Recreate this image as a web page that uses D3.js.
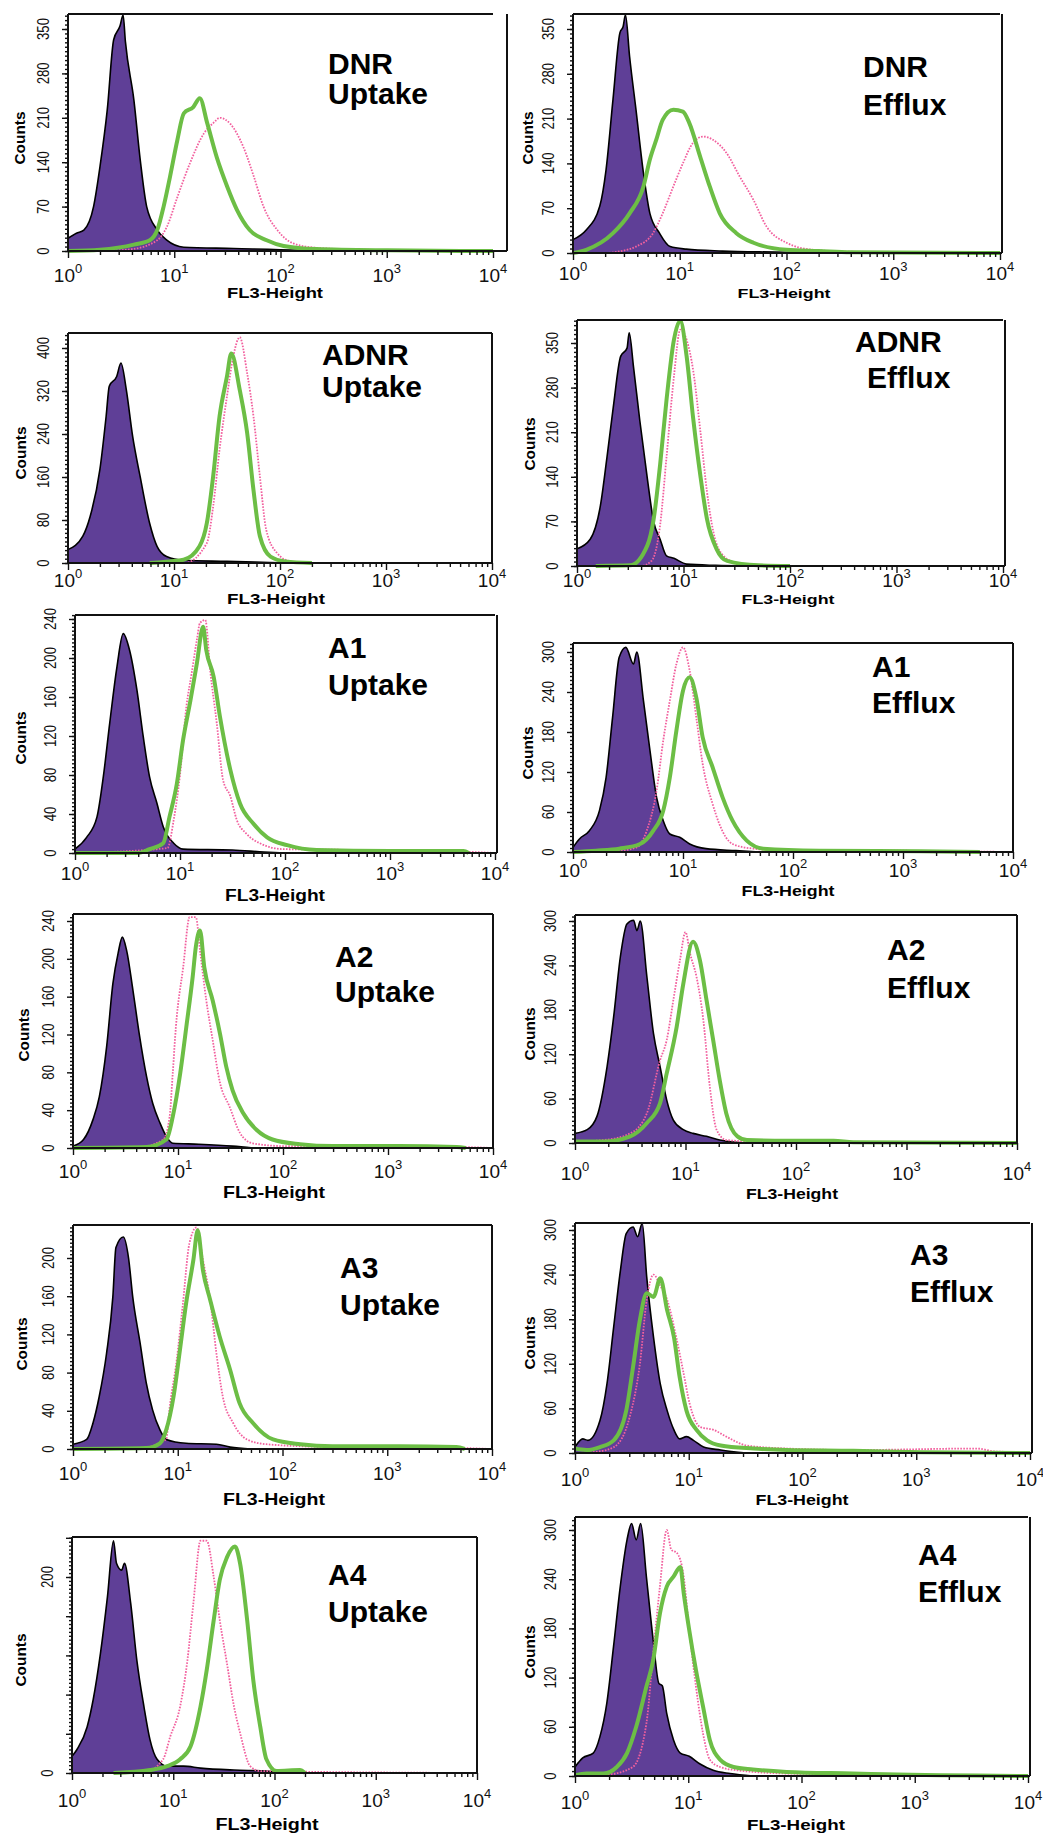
<!DOCTYPE html>
<html>
<head>
<meta charset="utf-8">
<script src="https://cdnjs.cloudflare.com/ajax/libs/d3/7.8.5/d3.min.js"></script>
<style>
body { margin: 0; background: #fff; }
svg { display: block; font-family: "Liberation Sans", Arial, sans-serif; }
</style>
</head>
<body>
<script>
// panel titles, reading order (left column = uptake, right column = efflux)
var panelTitles = [
	["DNR", "Uptake"], ["DNR", "Efflux"],
	["ADNR", "Uptake"], ["ADNR", "Efflux"],
	["A1", "Uptake"], ["A1", "Efflux"],
	["A2", "Uptake"], ["A2", "Efflux"],
	["A3", "Uptake"], ["A3", "Efflux"],
	["A4", "Uptake"], ["A4", "Efflux"]
];
var yTickLabels = [
	[0, 70, 140, 210, 280, 350], [0, 70, 140, 210, 280, 350],
	[0, 80, 160, 240, 320, 400], [0, 70, 140, 210, 280, 350],
	[0, 40, 80, 120, 160, 200, 240], [0, 60, 120, 180, 240, 300],
	[0, 40, 80, 120, 160, 200, 240], [0, 60, 120, 180, 240, 300],
	[0, 40, 80, 120, 160, 200], [0, 60, 120, 180, 240, 300],
	[0, 200], [0, 60, 120, 180, 240, 300]
];
var yMajorStep = [70, 70, 80, 70, 40, 60, 40, 60, 40, 60, 40, 60];
var xDecades = [1, 10, 100, 1000, 10000];
var xLabel = "FL3-Height", yLabel = "Counts";

// histograms: [FL3 channel, counts]
var dnrUpCtrl = [[1,20],[1.2,28],[1.41,33],[1.74,70],[2,133],[2.34,222],[2.69,333],[3.09,355],[3.3,372],[3.47,330],[4.17,238],[4.79,143],[5.5,70],[6.92,33],[8.51,17],[12.3,6],[36.3,4],[151,1],[200,0]];
var dnrUpGreen = [[1,0],[2,2],[4.17,10],[5.89,17],[6.92,33],[7.94,70],[9.12,117],[10.7,175],[12.3,217],[15.1,227],[17.4,241],[20.4,202],[25.1,148],[31.6,101],[38.9,65],[51.3,33],[74.1,17],[107,8],[219,3],[1000,1],[10000,0]];
var dnrUpPink = [[1,0],[2,0],[3.98,3],[6.92,17],[8.51,38],[10.7,85],[14.1,139],[19.1,186],[23.4,202],[26.9,210],[33.9,200],[44.7,164],[56.2,117],[69.2,70],[93.3,33],[132,12],[219,5],[631,2],[10000,0]];

var dnrEfCtrl = [[1,21],[1.33,36],[1.78,73],[2.04,130],[2.37,240],[2.75,344],[2.95,354],[3.1,372],[3.39,307],[3.89,224],[4.57,125],[5.25,62],[6.46,31],[8.13,10],[11.5,6],[25.1,3],[100,1],[158,0]];
var dnrEfGreen = [[1,0],[1.33,5],[2.37,31],[3.39,62],[4.57,104],[5.25,146],[6.03,177],[6.92,208],[8.71,224],[10.7,221],[12.3,203],[15.5,151],[19.1,104],[23.7,62],[33.9,31],[49,16],[100,5],[200,3],[398,1],[10000,0]];
var dnrEfPink = [[1,0],[2,0],[2.82,3],[3.89,10],[5.62,31],[6.92,62],[8.71,104],[10.7,140],[13.3,172],[16.6,182],[20.4,177],[27.5,156],[36.3,120],[49,83],[64.6,42],[100,16],[178,5],[398,2],[10000,0]];

var adnrUpCtrl = [[1,25],[1.38,50],[1.62,87],[2,174],[2.29,273],[2.45,329],[2.88,347],[3.16,372],[3.55,322],[4.07,236],[4.79,161],[5.89,74],[6.92,31],[8.51,12],[12.3,5],[31.6,3],[79.4,1],[126,0]];
var adnrUpGreen = [[5.9,0],[7.94,2],[12.3,6],[17.4,31],[20.4,74],[23.4,161],[26.9,273],[31.6,347],[34.7,390],[41.7,322],[49,242],[56.2,136],[64.6,50],[81.3,12],[112,3],[200,0]];
var adnrUpPink = [[1,0],[12.6,0],[20.4,37],[23.4,105],[26.9,211],[31.6,310],[36.3,385],[41.7,420],[49,353],[56.2,273],[64.6,161],[74.1,62],[93.3,19],[126,3],[200,0],[10000,0]];

var adnrEfCtrl = [[1,27],[1.33,42],[1.66,95],[1.91,170],[2.19,249],[2.57,329],[2.95,342],[3.09,366],[3.39,313],[3.89,228],[4.57,138],[5.25,69],[6.03,42],[6.92,16],[8.13,12],[10.7,3],[20,1],[39.8,0]];
var adnrEfGreen = [[1.5,0],[3.16,1],[4.57,32],[5.25,74],[6.03,159],[6.92,260],[8.13,355],[9.33,385],[10.7,329],[12.3,233],[14.5,138],[16.6,74],[20.4,27],[25.7,8],[50.1,1],[100,0]];
var adnrEfPink = [[1,0],[3.98,0],[5.01,8],[6.03,64],[6.92,170],[8.13,297],[9.33,371],[10.7,355],[12.3,308],[14.5,207],[16.6,117],[19.1,53],[23.7,16],[31.6,5],[63.1,1],[100,0],[10000,0]];

var a1UpCtrl = [[1,4],[1.29,16],[1.62,37],[1.86,78],[2.14,133],[2.51,191],[2.88,225],[3.31,208],[3.89,167],[4.47,119],[5.13,78],[6.03,51],[6.92,27],[8.71,10],[10.7,4],[31.6,3],[63.1,1],[100,0]];
var a1UpGreen = [[1,0],[3.98,0],[5.13,4],[6.92,10],[7.94,37],[9.33,71],[10.7,116],[12.6,157],[14.5,195],[16.6,232],[17.8,208],[20.9,181],[24,140],[30.2,85],[37.2,51],[50.1,30],[67.6,16],[105,8],[200,3],[1000,2],[5010,2],[5620,0]];
var a1UpPink = [[1,0],[7.59,5],[8.71,34],[10,80],[11.5,150],[12.9,184],[14.5,219],[15.5,236],[17.4,239],[19.5,185],[22.4,133],[25.7,75],[30.2,58],[34.7,34],[42.7,20],[57.5,10],[95.5,4],[631,3],[6310,1],[10000,0]];

var a1EfCtrl = [[1,7],[1.15,20],[1.41,32],[1.74,62],[2,112],[2.29,202],[2.63,292],[3.02,307],[3.55,282],[3.8,300],[4.37,227],[5.01,152],[5.75,82],[6.61,47],[7.59,27],[9.33,22],[11.5,12],[16.2,5],[30.2,2],[50,0]];
var a1EfGreen = [[1,0],[1.62,2],[2.63,5],[4.07,12],[5.37,32],[6.61,62],[7.59,112],[8.71,182],[10,242],[11.5,262],[13.2,232],[15.1,172],[18.6,127],[22.9,82],[28.2,47],[38,17],[53.7,5],[174,2],[1410,1],[5000,0]];
var a1EfPink = [[1,0],[2.63,2],[3.8,7],[4.68,32],[5.75,92],[6.61,167],[7.59,227],[8.71,282],[10,307],[11.5,272],[13.2,202],[15.1,132],[18.6,72],[21.4,42],[28.2,12],[43.7,5],[87,2],[708,2],[3000,1],[10000,0]];

var a2UpCtrl = [[1,2],[1.26,9],[1.55,30],[1.78,54],[2.09,107],[2.4,174],[2.69,206],[2.95,223],[3.24,209],[3.72,167],[4.27,121],[5.01,76],[5.75,47],[6.76,26],[7.76,12],[8.91,5],[15.8,4],[33.1,2],[52,0]];
var a2UpGreen = [[1,0],[5.01,1],[7.76,9],[8.91,33],[10.5,79],[12,128],[13.8,181],[14.8,213],[16.2,230],[17.8,191],[21.4,156],[25.1,121],[28.8,86],[33.1,61],[41.7,37],[56.2,19],[79.4,9],[145,4],[300,2],[1260,2],[4500,1],[5500,0]];
var a2UpPink = [[1,0],[4,0],[7.24,9],[8.32,33],[8.91,79],[9.55,128],[11.2,191],[12.9,244],[14.8,244],[16.2,209],[18.6,156],[21.4,114],[25.1,69],[30.9,44],[38.9,16],[51.3,5],[100,2],[5000,1],[10000,0]];

var a2EfCtrl = [[1,13],[1.29,18],[1.58,36],[1.95,103],[2.24,171],[2.57,251],[2.95,296],[3.39,301],[3.63,287],[3.9,300],[4.47,225],[5.13,148],[5.89,103],[6.76,58],[7.76,31],[9.55,18],[11.7,13],[15.5,9],[20.4,4],[28.8,1],[40,0]];
var a2EfGreen = [[1,2],[1.82,2],[3.16,9],[4.47,27],[5.89,54],[6.76,94],[8.32,157],[9.55,215],[11.7,272],[13.5,247],[15.5,193],[17.8,139],[20.4,85],[23.4,40],[29.5,9],[36,4],[83,3],[219,3],[330,1],[10000,0]];
var a2EfPink = [[1,2],[1.82,4],[3.16,13],[4.47,40],[5.89,112],[6.76,139],[7.76,193],[8.91,247],[10,285],[11,256],[12.6,224],[14.5,166],[16.6,76],[19.1,18],[23.4,4],[41,2],[330,1],[10000,0]];

var a3UpCtrl = [[1,5],[1.35,10],[1.55,27],[1.78,55],[2.09,100],[2.4,159],[2.57,211],[3.02,222],[3.39,200],[3.72,159],[4.37,111],[5.01,69],[5.75,41],[6.76,20],[7.76,10],[12,6],[23.4,5],[31.6,2],[50,0]];
var a3UpGreen = [[1,0],[5.01,1],[6.76,6],[7.76,20],[9.12,55],[10.5,104],[12,152],[14.1,198],[15.5,229],[17.4,187],[20.4,156],[25.1,118],[31.6,83],[38.9,48],[52.5,27],[81.3,10],[148,5],[300,3],[1300,3],[4570,2],[5500,0]];
var a3UpPink = [[1,0],[4,0],[7.76,10],[8.32,41],[9.77,93],[11.2,152],[12.9,215],[15.1,232],[17.4,198],[20.4,156],[23.4,100],[26.9,55],[33.9,27],[45.7,10],[70,5],[300,2],[5000,1],[10000,0]];

var a3EfCtrl = [[1,8],[1.17,19],[1.3,17],[1.66,44],[1.91,93],[2.19,170],[2.51,246],[2.82,295],[3.24,304],[3.55,291],[3.9,309],[4.27,237],[4.9,156],[5.62,93],[6.46,57],[7.41,31],[8.32,19],[9.55,22],[11,17],[13.5,8],[19.1,4],[32,0]];
var a3EfGreen = [[1,6],[1.26,4],[1.66,8],[2.19,17],[2.82,57],[3.24,116],[3.72,179],[4.27,215],[4.9,210],[5.62,235],[6.46,192],[7.41,156],[8.32,102],[9.55,57],[11.7,31],[14.5,17],[19.1,10],[37.2,6],[73,4],[280,3],[1100,1],[10000,0]];
var a3EfPink = [[1,0],[1.6,2],[2.2,8],[3.02,48],[3.72,120],[4.27,206],[4.9,240],[5.62,225],[6.46,206],[7.76,156],[8.91,111],[10.2,66],[12.6,35],[16.6,31],[21.4,22],[32.4,10],[73,6],[280,4],[3400,6],[5000,2],[10000,1]];

var a4UpCtrl = [[1,17],[1.12,24],[1.41,47],[1.62,75],[1.91,122],[2.24,180],[2.57,237],[2.75,214],[3.09,207],[3.3,214],[3.8,173],[4.37,115],[5.13,68],[5.89,34],[6.92,14],[8.71,7],[12.6,7],[18.6,5],[39.8,3],[83,2],[120,0]];
var a4UpGreen = [[2.57,0],[5.89,3],[8.71,7],[11.7,14],[14.8,27],[18.6,68],[21.4,105],[25.1,156],[28.8,197],[33.9,220],[40.7,231],[45.7,214],[53.7,156],[61.7,95],[72.4,47],[83.2,14],[105,2],[178,3],[200,0]];
var a4UpPink = [[1,0],[5,0],[7.94,14],[9.33,37],[11.7,68],[13.8,115],[15.8,173],[18.6,237],[21.4,237],[25.1,200],[28.8,156],[33.9,112],[39.8,68],[45.7,41],[57.5,7],[72,2],[10000,0]];

var a4EfCtrl = [[1,11],[1.17,22],[1.45,28],[1.66,48],[1.91,89],[2.19,158],[2.51,231],[2.88,288],[3.16,308],[3.47,288],[3.8,308],[4.27,243],[4.9,166],[5.5,113],[5.9,110],[6.46,76],[7.41,44],[8.51,28],[10.2,24],[12.6,15],[16.6,7],[23.4,3],[37,0]];
var a4EfGreen = [[1,1],[1.26,3],[1.78,3],[2.34,11],[2.88,28],[3.47,60],[4.27,109],[4.9,141],[5.62,198],[6.46,231],[7.41,243],[8.51,255],[9.12,223],[10.2,178],[11.7,129],[13.5,85],[15.5,44],[19.1,20],[25.1,11],[37.2,8],[74,5],[282,3],[550,2],[10000,0]];
var a4EfPink = [[1,0],[2,2],[3.24,11],[4.27,64],[4.9,150],[5.62,231],[6.46,300],[7.08,276],[7.94,272],[9.12,243],[10.2,178],[11.7,109],[13.5,52],[15.5,20],[19.1,11],[26.9,7],[74,3],[1100,1],[10000,0]];

var ctrlCurves = [dnrUpCtrl, dnrEfCtrl, adnrUpCtrl, adnrEfCtrl, a1UpCtrl, a1EfCtrl, a2UpCtrl, a2EfCtrl, a3UpCtrl, a3EfCtrl, a4UpCtrl, a4EfCtrl];
var greenCurves = [dnrUpGreen, dnrEfGreen, adnrUpGreen, adnrEfGreen, a1UpGreen, a1EfGreen, a2UpGreen, a2EfGreen, a3UpGreen, a3EfGreen, a4UpGreen, a4EfGreen];
var pinkCurves = [dnrUpPink, dnrEfPink, adnrUpPink, adnrEfPink, a1UpPink, a1EfPink, a2UpPink, a2EfPink, a3UpPink, a3EfPink, a4UpPink, a4EfPink];

/*
where each panel sits on the page.
x0/x1: 10^0 and 10^4, xr: right frame edge, top: frame top,
y0: zero counts, yMaxPix: pixel of the highest tick label.
*/
var layout = [
	{x0: 68, x1: 493, xr: 507, top: 14, y0: 251, yMaxPix: 29, dy: 31, counts: [20, 138], fl3: [275, 298, 96, 14], title: [328, 74, 328, 104]},
	{x0: 573, x1: 1000, xr: 1002, top: 14, y0: 253, yMaxPix: 29, dy: 27, counts: [528, 138], fl3: [784, 298, 93, 13], title: [863, 77, 863, 115]},
	{x0: 68, x1: 492, xr: 492, top: 333, y0: 563, yMaxPix: 348, dy: 24, counts: [21, 453], fl3: [276, 604, 98, 14], title: [322, 365, 322, 397]},
	{x0: 577, x1: 1003, xr: 1005, top: 320, y0: 566, yMaxPix: 343, dy: 21, counts: [530, 444], fl3: [788, 604, 93, 13], title: [855, 352, 867, 388]},
	{x0: 75, x1: 495, xr: 497, top: 615, y0: 853, yMaxPix: 619, dy: 27, counts: [21, 738], fl3: [275, 901, 100, 16], title: [328, 658, 328, 695]},
	{x0: 573, x1: 1013, xr: 1013, top: 643, y0: 852, yMaxPix: 652, dy: 25, counts: [528, 753], fl3: [788, 896, 93, 14], title: [872, 677, 872, 713]},
	{x0: 73, x1: 493, xr: 493, top: 914, y0: 1148, yMaxPix: 921, dy: 30, counts: [24, 1035], fl3: [274, 1198, 102, 17], title: [335, 967, 335, 1002]},
	{x0: 575, x1: 1017, xr: 1017, top: 915, y0: 1143, yMaxPix: 921, dy: 37, counts: [530, 1034], fl3: [792, 1199, 92, 14], title: [887, 960, 887, 998]},
	{x0: 73, x1: 492, xr: 492, top: 1225, y0: 1449, yMaxPix: 1258, dy: 31, counts: [22, 1344], fl3: [274, 1505, 102, 17], title: [340, 1278, 340, 1315]},
	{x0: 575, x1: 1030, xr: 1032, top: 1223, y0: 1453, yMaxPix: 1230, dy: 33, counts: [530, 1343], fl3: [802, 1505, 93, 14], title: [910, 1265, 910, 1302]},
	{x0: 72, x1: 477, xr: 477, top: 1537, y0: 1773, yMaxPix: 1577, dy: 34, counts: [21, 1660], fl3: [267, 1830, 103, 16], title: [328, 1585, 328, 1622]},
	{x0: 575, x1: 1028, xr: 1030, top: 1517, y0: 1776, yMaxPix: 1530, dy: 33, counts: [530, 1652], fl3: [796, 1830, 98, 15], title: [918, 1565, 918, 1602]}
];

var purple = "#5f3f97", green = "#6cbe45", pink = "#f2609e";

var svg = d3.select("body").append("svg")
	.attr("width", 1043).attr("height", 1837);
var defs = svg.append("defs");

panelTitles.forEach(function(title, i) {
	var L = layout[i];
	var labels = yTickLabels[i];
	var x = d3.scaleLog().domain([1, 10000]).range([L.x0, L.x1]);
	var y = d3.scaleLinear().domain([0, labels[labels.length - 1]]).range([L.y0, L.yMaxPix]);
	var g = svg.append("g").attr("class", "panel");

	defs.append("clipPath").attr("id", "clip" + i).append("rect")
		.attr("x", L.x0).attr("y", L.top)
		.attr("width", L.xr - L.x0).attr("height", L.y0 - L.top + 2);

	var plot = g.append("g").attr("clip-path", "url(#clip" + i + ")");
	var area = d3.area()
		.x(function(d) { return x(d[0]); })
		.y0(L.y0)
		.y1(function(d) { return y(d[1]); })
		.curve(d3.curveMonotoneX);
	var line = d3.line()
		.x(function(d) { return x(d[0]); })
		.y(function(d) { return y(d[1]); })
		.curve(d3.curveMonotoneX);

	plot.append("path").datum(ctrlCurves[i])
		.attr("d", area).attr("fill", purple);
	plot.append("path").datum(ctrlCurves[i])
		.attr("d", line).attr("fill", "none")
		.attr("stroke", "#000").attr("stroke-width", 1.6);
	plot.append("path").datum(pinkCurves[i])
		.attr("d", line).attr("fill", "none")
		.attr("stroke", pink).attr("stroke-width", 1.8)
		.attr("stroke-dasharray", "1.6,1.4");
	plot.append("path").datum(greenCurves[i])
		.attr("d", line).attr("fill", "none")
		.attr("stroke", green).attr("stroke-width", 4)
		.attr("stroke-linejoin", "round");

	// x axis: minor then decade ticks
	var minor = [];
	xDecades.slice(0, 4).forEach(function(d) {
		d3.range(2, 10).forEach(function(k) { minor.push(d * k); });
	});
	g.append("g").attr("transform", "translate(0," + L.y0 + ")")
		.call(d3.axisBottom(x).tickValues(minor).tickSize(4).tickSizeOuter(0).tickFormat(""));
	g.append("g").attr("transform", "translate(0," + L.y0 + ")")
		.call(d3.axisBottom(x).tickValues(xDecades).tickSize(7).tickSizeOuter(0).tickFormat(""));

	g.selectAll(".xl").data(xDecades).enter().append("text")
		.attr("x", function(d) { return x(d); })
		.attr("y", L.y0 + L.dy)
		.attr("text-anchor", "middle")
		.attr("font-size", 19)
		.attr("fill", "#111")
		.each(function(d) {
			var t = d3.select(this);
			t.append("tspan").text("10");
			t.append("tspan").attr("dy", -9).attr("font-size", 13)
				.text(Math.round(Math.log10(d)));
		});

	// y axis
	var yTop = y.invert(L.top);
	var step = yMajorStep[i];
	g.append("g").attr("transform", "translate(" + L.x0 + ",0)")
		.call(d3.axisLeft(y).tickValues(d3.range(0, yTop, step / 10)).tickSize(3).tickSizeOuter(0).tickFormat(""));
	g.append("g").attr("transform", "translate(" + L.x0 + ",0)")
		.call(d3.axisLeft(y).tickValues(d3.range(0, yTop, step)).tickSize(6).tickSizeOuter(0).tickFormat(""));

	g.selectAll(".yl").data(labels).enter().append("text")
		.attr("transform", function(d) {
			return "translate(" + (L.x0 - 19) + "," + y(d) + ") rotate(-90)";
		})
		.attr("text-anchor", "middle")
		.attr("font-size", 16)
		.attr("fill", "#111")
		.attr("textLength", function(d) { return String(d).length * 7.3; })
		.attr("lengthAdjust", "spacingAndGlyphs")
		.text(function(d) { return d; });

	g.selectAll(".domain").remove();
	g.selectAll(".tick line").attr("stroke", "#111").attr("stroke-width", 1.4);

	// frame
	var frame = [
		[L.x0, L.top, L.x0, L.y0],
		[L.x0, L.y0, L.xr, L.y0],
		[L.x0, L.top, L.x1, L.top],
		[L.xr, L.top, L.xr, L.y0]
	];
	g.selectAll(".frame").data(frame).enter().append("line")
		.attr("x1", function(d) { return d[0]; })
		.attr("y1", function(d) { return d[1]; })
		.attr("x2", function(d) { return d[2]; })
		.attr("y2", function(d) { return d[3]; })
		.attr("stroke", "#111").attr("stroke-width", 2);

	// labels
	g.append("text")
		.attr("transform", "translate(" + L.counts[0] + "," + L.counts[1] + ") rotate(-90)")
		.attr("text-anchor", "middle").attr("dy", "0.35em")
		.attr("font-size", 15).attr("font-weight", "bold")
		.attr("textLength", 53).attr("lengthAdjust", "spacingAndGlyphs")
		.text(yLabel);
	g.append("text")
		.attr("x", L.fl3[0] - L.fl3[2] / 2).attr("y", L.fl3[1])
		.attr("font-size", L.fl3[3]).attr("font-weight", "bold")
		.attr("textLength", L.fl3[2]).attr("lengthAdjust", "spacingAndGlyphs")
		.text(xLabel);

	g.append("text").attr("x", L.title[0]).attr("y", L.title[1])
		.attr("font-size", 30).attr("font-weight", "bold")
		.text(title[0]);
	g.append("text").attr("x", L.title[2]).attr("y", L.title[3])
		.attr("font-size", 30).attr("font-weight", "bold")
		.text(title[1]);
});
</script>
</body>
</html>
